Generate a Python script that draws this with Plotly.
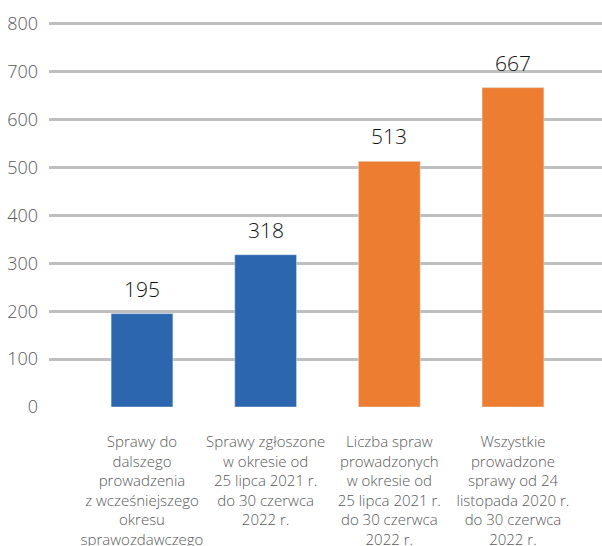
import plotly.graph_objects as go

# Data
categories = [
    "Sprawy do<br>dalszego<br>prowadzenia<br>z wcześniejszego<br>okresu<br>sprawozdawczego",
    "Sprawy zgłoszone<br>w okresie od<br>25 lipca 2021 r.<br>do 30 czerwca<br>2022 r.",
    "Liczba spraw<br>prowadzonych<br>w okresie od<br>25 lipca 2021 r.<br>do 30 czerwca<br>2022 r.",
    "Wszystkie<br>prowadzone<br>sprawy od 24<br>listopada 2020 r.<br>do 30 czerwca<br>2022 r.",
]
values = [195, 318, 513, 667]
bar_colors = ["#2B66AF", "#2B66AF", "#ED7D31", "#ED7D31"]
y_ticks = [0, 100, 200, 300, 400, 500, 600, 700, 800]

fig = go.Figure()
fig.add_trace(go.Bar(
    x=categories,
    y=values,
    marker_color=bar_colors,
    width=0.5,
    hoverinfo="skip",
))

# value labels above the bars
for c, v in zip(categories, values):
    fig.add_annotation(
        x=c, y=v, text=str(v), showarrow=False,
        yanchor="bottom", yshift=9,
        font=dict(family="Open Sans", size=21, color="#111111"),
    )

fig.update_layout(
    width=602, height=546,
    margin=dict(l=49, r=0, t=22, b=139),
    plot_bgcolor="white", paper_bgcolor="white",
    showlegend=False,
    font=dict(family="Open Sans", weight=300, color="#595959"),
)
fig.update_yaxes(
    range=[0, 804], tickvals=y_ticks,
    showgrid=True, gridcolor="#BFBFBF", gridwidth=3,
    zeroline=False, showline=False,
    automargin=False,
    ticklabelstandoff=10,
    tickfont=dict(family="Open Sans", size=18, weight=300, color="#595959"),
)
fig.update_xaxes(
    range=[-0.752, 3.72],
    showgrid=False, zeroline=False, showline=False,
    automargin=False,
    tickangle=0,
    ticklabelstandoff=24,
    tickfont=dict(family="Open Sans", size=15, weight=300, color="#595959"),
)

# drop the default page margin so the chart sits at the window's corner
fig.write_html(
    "out.html",
    config={"displayModeBar": False},
    post_script="document.body.style.margin='0';",
)
